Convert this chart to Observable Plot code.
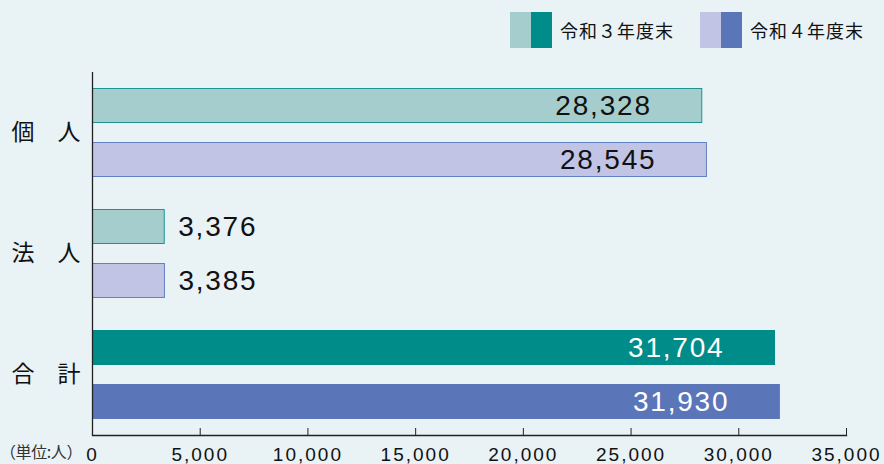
<!DOCTYPE html>
<html>
<head>
<meta charset="utf-8">
<script src="https://cdn.jsdelivr.net/npm/d3@7"></script>
<script src="https://cdn.jsdelivr.net/npm/@observablehq/plot@0.6"></script>
<style>
  html, body { margin: 0; padding: 0; background: #e9f2f4; }
  #wrap { position: relative; width: 884px; height: 464px; background: #e9f2f4; overflow: hidden; }
  #chart { position: absolute; left: 0; top: 0; }
  .legend { position: absolute; top: 12px; height: 36px; display: flex; align-items: center;
            font-family: "Noto Sans CJK JP", sans-serif; font-size: 18px; color: #111; letter-spacing: 1px; }
  .sw { display: inline-block; width: 21px; height: 36px; }
  .legend span.t { margin-left: 8px; }
  #unit { position: absolute; left: 0px; top: 441px; font-family: "Noto Sans CJK JP", sans-serif;
          font-size: 16px; line-height: 20px; color: #333; letter-spacing: -0.4px; }
  #chart g[aria-label="text"] text { letter-spacing: 1.8px; }
  #chart g[aria-label="x-axis tick label"] text { letter-spacing: 2px; }
</style>
</head>
<body>
<div id="wrap">
  <div id="chart"></div>
  <div class="legend" id="leg0" style="left:510px"></div>
  <div class="legend" id="leg1" style="left:700px"></div>
  <div id="unit">（単位:人）</div>
</div>
<script>
const categories = ["個　人", "法　人", "合　計"];
const years = ["令和３年度末", "令和４年度末"];
const valuesR3 = [28328, 3376, 31704];
const valuesR4 = [28545, 3385, 31930];
const xTicks = [0, 5000, 10000, 15000, 20000, 25000, 30000, 35000];

const palette = {
  "令和３年度末": {light: "#a6cdcd", lightStroke: "#1a9593", dark: "#008c88"},
  "令和４年度末": {light: "#c1c4e4", lightStroke: "#6480c4", dark: "#5b75b9"}
};

const rows = [];
categories.forEach((c, i) => {
  [valuesR3, valuesR4].forEach((vals, j) => {
    rows.push({cat: c, year: years[j], value: vals[i], total: i === categories.length - 1});
  });
});

const fillOf = d => d.total ? palette[d.year].dark : palette[d.year].light;
const strokeOf = d => d.total ? palette[d.year].dark : palette[d.year].lightStroke;
const fmt = d3.format(",");

const plot = Plot.plot({
  width: 884,
  height: 464,
  marginTop: 72,
  marginBottom: 29,
  marginLeft: 92,
  marginRight: 38,
  style: {background: "transparent", fontFamily: "'Liberation Sans', Arial, sans-serif"},
  x: {domain: [0, 35000], label: null},
  y: {domain: years, axis: null, paddingInner: 0.345, paddingOuter: 0.283},
  fy: {domain: categories, padding: 0, label: null},
  marks: [
    Plot.barX(rows, {x: "value", y: "year", fy: "cat", fill: fillOf, stroke: strokeOf, strokeWidth: 1, inset: 0.5}),
    Plot.ruleX([0], {stroke: "#222", strokeWidth: 1.3}),
    Plot.frame({anchor: "bottom", facetAnchor: "bottom", stroke: "#222", strokeWidth: 1.3}),
    Plot.text(rows.filter(d => d.value > 10000), {
      x: "value", y: "year", fy: "cat", text: d => fmt(d.value),
      textAnchor: "end", dx: -51, fontSize: 28,
      fill: d => d.total ? "#ffffff" : "#111111"
    }),
    Plot.text(rows.filter(d => d.value <= 10000), {
      x: "value", y: "year", fy: "cat", text: d => fmt(d.value),
      textAnchor: "start", dx: 13, fontSize: 28, fill: "#111111"
    }),
    Plot.axisX(xTicks, {tickSize: -7, tickFormat: () => "", stroke: "#222", label: null}),
    Plot.axisX(xTicks, {tickSize: 0, tickPadding: 12, tickFormat: fmt, fontSize: 19, fill: "#111", label: null}),
    Plot.axisFy({anchor: "left", tickSize: 0, tickPadding: 12, label: null, fontSize: 23,
                 fontFamily: "'Noto Sans CJK JP', sans-serif", fill: "#111"})
  ]
});
document.getElementById("chart").appendChild(plot);

years.forEach((y, i) => {
  const el = document.getElementById("leg" + i);
  el.innerHTML = `<span class="sw" style="background:${palette[y].light}"></span><span class="sw" style="background:${palette[y].dark}"></span><span class="t">${y}</span>`;
});
</script>
</body>
</html>
